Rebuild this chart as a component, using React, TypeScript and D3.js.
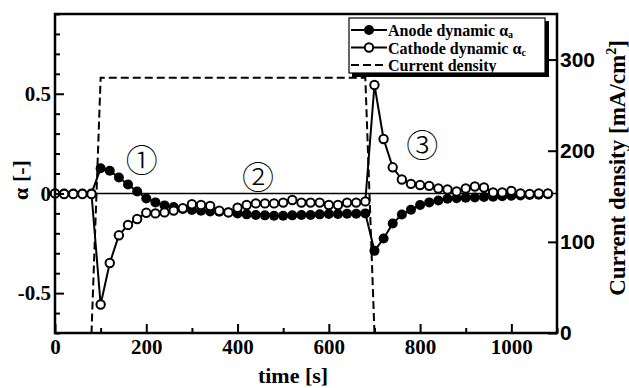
import React, { useEffect, useRef } from 'react';
import * as d3 from 'd3';

// sampling times [s]
const times = [
  0, 20, 40, 60, 80, 100, 120, 140, 160, 180, 200, 220, 240, 260, 280, 300, 320, 340, 360, 380,
  400, 420, 440, 460, 480, 500, 520, 540, 560, 580, 600, 620, 640, 660, 680, 700, 720, 740, 760, 780,
  800, 820, 840, 860, 880, 900, 920, 940, 960, 980, 1000, 1020, 1040, 1060, 1080,
];

const anodeAlpha = [
  0, 0, 0, 0, 0, 0.126, 0.114, 0.08, 0.045, 0.01, -0.025, -0.045, -0.06, -0.068, -0.078, -0.083, -0.087, -0.09, -0.092, -0.095,
  -0.1, -0.105, -0.108, -0.11, -0.112, -0.112, -0.11, -0.108, -0.108, -0.105, -0.103, -0.103, -0.102, -0.102, -0.1, -0.288, -0.226, -0.151, -0.106, -0.082,
  -0.058, -0.045, -0.035, -0.027, -0.024, -0.022, -0.02, -0.018, -0.016, -0.014, -0.012, -0.01, -0.008, -0.006, -0.004,
];

const cathodeAlpha = [
  0, -0.003, -0.003, -0.003, -0.003, -0.557, -0.349, -0.21, -0.158, -0.128, -0.097, -0.1, -0.095, -0.086, -0.074, -0.054, -0.058, -0.063, -0.087, -0.095,
  -0.072, -0.058, -0.05, -0.05, -0.05, -0.046, -0.033, -0.046, -0.046, -0.046, -0.058, -0.058, -0.046, -0.046, -0.04, 0.544, 0.273, 0.131, 0.07, 0.048,
  0.042, 0.038, 0.025, 0.02, 0.01, 0.025, 0.035, 0.03, 0.005, 0.005, 0.013, 0, -0.002, 0, 0,
];

// current density step [mA/cm2]
const currentTimes = [0, 80, 100, 680, 700, 1100];
const currentValues = [0, 0, 280, 280, 0, 0];

const xTicks = [0, 200, 400, 600, 800, 1000];
const xMinorTicks = [100, 300, 500, 700, 900, 1100];
const alphaTicks = [-0.5, 0, 0.5];
const alphaTickLabels = ['-0.5', '0', '0.5'];
const alphaMinorTicks = [-0.7, -0.6, -0.4, -0.3, -0.2, -0.1, 0.1, 0.2, 0.3, 0.4, 0.6, 0.7, 0.8, 0.9];
const currentTicks = [0, 100, 200, 300];

const regionLabels = [
  { text: '\u2460', t: 190, a: 0.18 },
  { text: '\u2461', t: 445, a: 0.09 },
  { text: '\u2462', t: 805, a: 0.255 },
];

const SERIF = '"Liberation Serif", "Times New Roman", serif';
const SANS = '"Liberation Sans", Arial, sans-serif';

const App: React.FC = () => {
  const svgRef = useRef<SVGSVGElement>(null);

  useEffect(() => {
    if (!svgRef.current) return;
    const svg = d3.select(svgRef.current);
    svg.selectAll('*').remove();

    const margin = { top: 14, right: 72, bottom: 55, left: 55 };
    const W = 629, H = 388;
    const width = W - margin.left - margin.right;
    const height = H - margin.top - margin.bottom;

    const g = svg.append('g').attr('transform', `translate(${margin.left},${margin.top})`);

    const x = d3.scaleLinear().domain([0, 1100]).range([0, width]);
    const y = d3.scaleLinear().domain([-0.7, 0.9]).range([height, 0]);
    const y2 = d3.scaleLinear().domain([0, 350]).range([height, 0]);

    // zero line
    g.append('line')
      .attr('x1', 0).attr('x2', width)
      .attr('y1', y(0)).attr('y2', y(0))
      .attr('stroke', '#000').attr('stroke-width', 1.6);

    // current density (dashed)
    const curLine = d3.line<number>()
      .x((_, i) => x(currentTimes[i]))
      .y(d => y2(d));
    g.append('path')
      .datum(currentValues)
      .attr('d', curLine)
      .attr('fill', 'none')
      .attr('stroke', '#000')
      .attr('stroke-width', 2)
      .attr('stroke-dasharray', '8,4');

    const line = d3.line<number>()
      .x((_, i) => x(times[i]))
      .y(d => y(d));

    // anode
    g.append('path').datum(anodeAlpha).attr('d', line)
      .attr('fill', 'none').attr('stroke', '#000').attr('stroke-width', 2);
    g.selectAll('.anode').data(anodeAlpha).enter().append('circle')
      .attr('class', 'anode')
      .attr('cx', (_, i) => x(times[i])).attr('cy', d => y(d))
      .attr('r', 5).attr('fill', '#000');

    // cathode
    g.append('path').datum(cathodeAlpha).attr('d', line)
      .attr('fill', 'none').attr('stroke', '#000').attr('stroke-width', 2);
    g.selectAll('.cathode').data(cathodeAlpha).enter().append('circle')
      .attr('class', 'cathode')
      .attr('cx', (_, i) => x(times[i])).attr('cy', d => y(d))
      .attr('r', 4.2).attr('fill', '#fff').attr('stroke', '#000').attr('stroke-width', 2);

    // region labels
    regionLabels.forEach(r => {
      g.append('text')
        .attr('x', x(r.t)).attr('y', y(r.a))
        .attr('text-anchor', 'middle').attr('dominant-baseline', 'central')
        .style('font-family', '"Noto Sans CJK JP", "DejaVu Serif", serif')
        .style('font-size', '32px')
        .style('font-weight', '300')
        .text(r.text);
    });

    // axes
    const styleAxis = (sel: d3.Selection<SVGGElement, unknown, null, undefined>, font: string) => {
      sel.select('.domain').remove();
      sel.selectAll('line').attr('stroke', '#000').attr('stroke-width', 2);
      sel.selectAll('text')
        .style('font-family', font)
        .style('font-weight', 'bold')
        .style('font-size', '21px')
        .attr('fill', '#000');
    };

    const gxMinor = g.append('g').attr('transform', `translate(0,${height})`)
      .call(d3.axisBottom(x).tickValues(xMinorTicks).tickSize(-5).tickFormat(() => ''));
    styleAxis(gxMinor, SERIF);
    const gx = g.append('g').attr('transform', `translate(0,${height})`)
      .call(d3.axisBottom(x).tickValues(xTicks).tickSize(-9).tickPadding(6).tickFormat(d3.format('d')));
    styleAxis(gx, SERIF);

    const gyMinor = g.append('g')
      .call(d3.axisLeft(y).tickValues(alphaMinorTicks).tickSize(-5).tickFormat(() => ''));
    styleAxis(gyMinor, SERIF);
    const gy = g.append('g')
      .call(d3.axisLeft(y).tickValues(alphaTicks).tickSize(-9).tickPadding(4)
        .tickFormat((_, i) => alphaTickLabels[i]));
    styleAxis(gy, SERIF);

    const gy2 = g.append('g').attr('transform', `translate(${width},0)`)
      .call(d3.axisRight(y2).tickValues(currentTicks).tickSize(-9).tickPadding(3).tickFormat(d3.format('d')));
    styleAxis(gy2, SANS);

    // frame
    g.append('rect')
      .attr('width', width).attr('height', height)
      .attr('fill', 'none').attr('stroke', '#000').attr('stroke-width', 2.5);

    // axis titles
    svg.append('text')
      .attr('x', 293).attr('y', 383)
      .attr('text-anchor', 'middle')
      .style('font-family', SERIF).style('font-weight', 'bold').style('font-size', '22px')
      .text('time [s]');

    svg.append('text')
      .attr('transform', 'translate(28,180) rotate(-90)')
      .attr('text-anchor', 'middle')
      .style('font-family', SERIF).style('font-weight', 'bold').style('font-size', '22px')
      .text('\u03b1 [-]');

    const rt = svg.append('text')
      .attr('transform', 'translate(625,168) rotate(-90)')
      .attr('text-anchor', 'middle')
      .style('font-family', SERIF).style('font-weight', 'bold').style('font-size', '23px');
    rt.append('tspan').text('Current density [mA/cm');
    rt.append('tspan').attr('dy', -9).style('font-size', '14px').text('2');
    rt.append('tspan').attr('dy', 9).text(']');

    // legend
    const lg = svg.append('g').attr('transform', 'translate(349,18)');
    lg.append('rect').attr('x', 3).attr('y', 3).attr('width', 197).attr('height', 56).attr('fill', '#000');
    lg.append('rect').attr('x', 0).attr('y', 0).attr('width', 196).attr('height', 55)
      .attr('fill', '#fff').attr('stroke', '#000').attr('stroke-width', 1.2);

    const rows = [
      { label: 'Anode dynamic ', sub: 'a', kind: 'filled' },
      { label: 'Cathode dynamic ', sub: 'c', kind: 'open' },
      { label: 'Current density', sub: '', kind: 'dash' },
    ];
    rows.forEach((r, i) => {
      const ry = 12 + i * 17.5;
      lg.append('line')
        .attr('x1', 2).attr('x2', 38).attr('y1', ry).attr('y2', ry)
        .attr('stroke', '#000').attr('stroke-width', 2)
        .attr('stroke-dasharray', r.kind === 'dash' ? '8,4' : null);
      if (r.kind !== 'dash') {
        lg.append('circle').attr('cx', 20).attr('cy', ry)
          .attr('r', r.kind === 'filled' ? 5 : 4.2)
          .attr('fill', r.kind === 'filled' ? '#000' : '#fff')
          .attr('stroke', '#000').attr('stroke-width', r.kind === 'filled' ? 0 : 2);
      }
      const t = lg.append('text').attr('x', 39).attr('y', ry + 6)
        .style('font-family', SERIF).style('font-weight', 'bold').style('font-size', '16px');
      t.append('tspan').text(r.label);
      if (r.sub) {
        t.append('tspan').text('\u03b1');
        t.append('tspan').attr('dy', 2).style('font-size', '10px').text(r.sub);
      }
    });
  }, []);

  return (
    <div style={{ position: 'absolute', left: 0, top: 0, background: '#fff' }}>
      <svg ref={svgRef} width={629} height={388} style={{ display: 'block' }} />
    </div>
  );
};

export default App;
